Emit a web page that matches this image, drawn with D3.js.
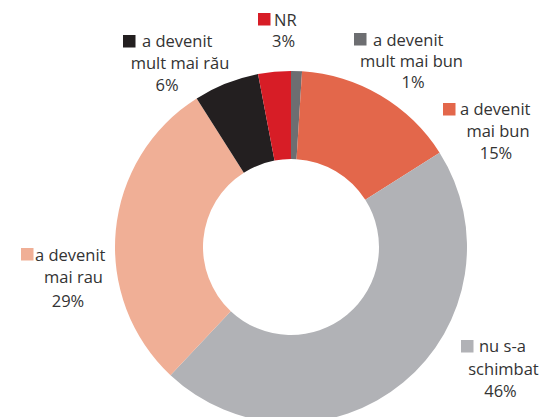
<!DOCTYPE html>
<html>
<head>
<meta charset="utf-8">
<script src="https://cdn.jsdelivr.net/npm/d3@7"></script>
<style>
  html, body { margin: 0; padding: 0; background: #fff; }
  svg { display: block; }
  text { font-family: "Open Sans", "Noto Sans", sans-serif; font-size: 16.5px; fill: #333; }
</style>
</head>
<body>
<svg id="chart" width="542" height="417"></svg>
<script>
// Slice order runs clockwise from 12 o'clock
const categories = ["a devenit mult mai bun", "a devenit mai bun", "nu s-a schimbat", "a devenit mai rau", "a devenit mult mai rău", "NR"];
const values = [1, 15, 46, 29, 6, 3];
const firstLines = ["a devenit", "a devenit", "nu s-a", "a devenit", "a devenit", "NR"];
const secondLines = ["mult mai bun", "mai bun", "schimbat", "mai rau", "mult mai rău", ""];
const colors = ["#6d6e71", "#e3674b", "#b1b2b6", "#f0af96", "#231f20", "#d71d26"];

// Label placement: swatch top-left, first-line baseline, centres of the lower lines
const labelLayout = [
  { sx: 354, sy: 33, tx: 373, y1: 46, c2: 411.5, y2: 67, c3: 413, y3: 88 },
  { sx: 443, sy: 103, tx: 460, y1: 115, c2: 498, y2: 137, c3: 496, y3: 159 },
  { sx: 461, sy: 340, tx: 479, y1: 352, c2: 503.5, y2: 375, c3: 500.5, y3: 397 },
  { sx: 21, sy: 248, tx: 35, y1: 261, c2: 73.5, y2: 283, c3: 68, y3: 307 },
  { sx: 123, sy: 35, tx: 142, y1: 47, c2: 180, y2: 69, c3: 167, y3: 91 },
  { sx: 258, sy: 13, tx: 274, y1: 26, c2: 0, y2: 0, c3: 283.5, y3: 47 }
];

const svg = d3.select("#chart");
const cx = 291, cy = 247, outerR = 176, innerR = 88;

const data = categories.map((c, i) => ({ name: c, value: values[i], color: colors[i], i }));

const pie = d3.pie().sort(null).value(d => d.value).startAngle(0).endAngle(2 * Math.PI);
const arc = d3.arc().innerRadius(innerR).outerRadius(outerR);

svg.append("g")
  .attr("transform", `translate(${cx},${cy})`)
  .selectAll("path")
  .data(pie(data))
  .join("path")
  .attr("d", arc)
  .attr("fill", d => d.data.color);

const labels = svg.append("g")
  .selectAll("g")
  .data(data)
  .join("g");

labels.append("rect")
  .attr("x", d => labelLayout[d.i].sx)
  .attr("y", d => labelLayout[d.i].sy)
  .attr("width", 12.5)
  .attr("height", 12.5)
  .attr("fill", d => d.color);

labels.append("text")
  .attr("x", d => labelLayout[d.i].tx)
  .attr("y", d => labelLayout[d.i].y1)
  .text(d => firstLines[d.i]);

labels.filter(d => secondLines[d.i] !== "")
  .append("text")
  .attr("x", d => labelLayout[d.i].c2)
  .attr("y", d => labelLayout[d.i].y2)
  .attr("text-anchor", "middle")
  .text(d => secondLines[d.i]);

labels.append("text")
  .attr("x", d => labelLayout[d.i].c3)
  .attr("y", d => labelLayout[d.i].y3)
  .attr("text-anchor", "middle")
  .text(d => d.value + "%");
</script>
</body>
</html>
